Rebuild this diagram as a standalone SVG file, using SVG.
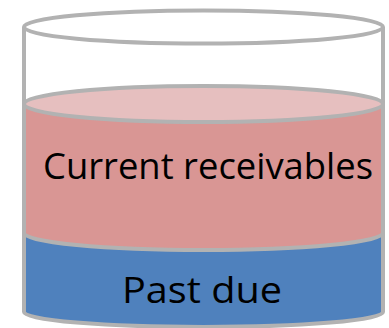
<svg xmlns="http://www.w3.org/2000/svg" width="389" height="328" viewBox="0 0 389 328">
<style>
.edge{stroke:#B2B2B2;stroke-width:4;fill:none}
.lbl{font-family:"Open Sans","Liberation Sans",sans-serif;font-size:37px;fill:#000}
</style>
<rect width="389" height="328" fill="#fff"/>
<g id="cup">
<line class="edge" x1="24" y1="27" x2="24" y2="105"/>
<line class="edge" x1="383" y1="27" x2="383" y2="105"/>
<ellipse class="edge" cx="203.5" cy="27" rx="179.5" ry="16.5"/>
</g>
<g id="current">
<path d="M24,105 L24,233 A179.5,17 0 0 0 383,233 L383,105 Z" fill="#D99694"/>
<line class="edge" x1="24" y1="105" x2="24" y2="233"/>
<line class="edge" x1="383" y1="105" x2="383" y2="233"/>
<ellipse cx="203.5" cy="104" rx="179.5" ry="18" fill="#E6BFBF" stroke="#B2B2B2" stroke-width="4"/>
<text class="lbl" x="43" y="179" textLength="330" lengthAdjust="spacingAndGlyphs">Current receivables</text>
</g>
<g id="pastdue">
<path d="M24,233 A179.5,17 0 0 0 383,233 L383,312 A179.5,15 0 0 1 24,312 Z" fill="#4F81BD"/>
<path class="edge" d="M24,233 A179.5,17 0 0 0 383,233 L383,312 A179.5,15 0 0 1 24,312 Z"/>
<text class="lbl" x="122" y="303" textLength="160" lengthAdjust="spacingAndGlyphs">Past due</text>
</g>
</svg>
